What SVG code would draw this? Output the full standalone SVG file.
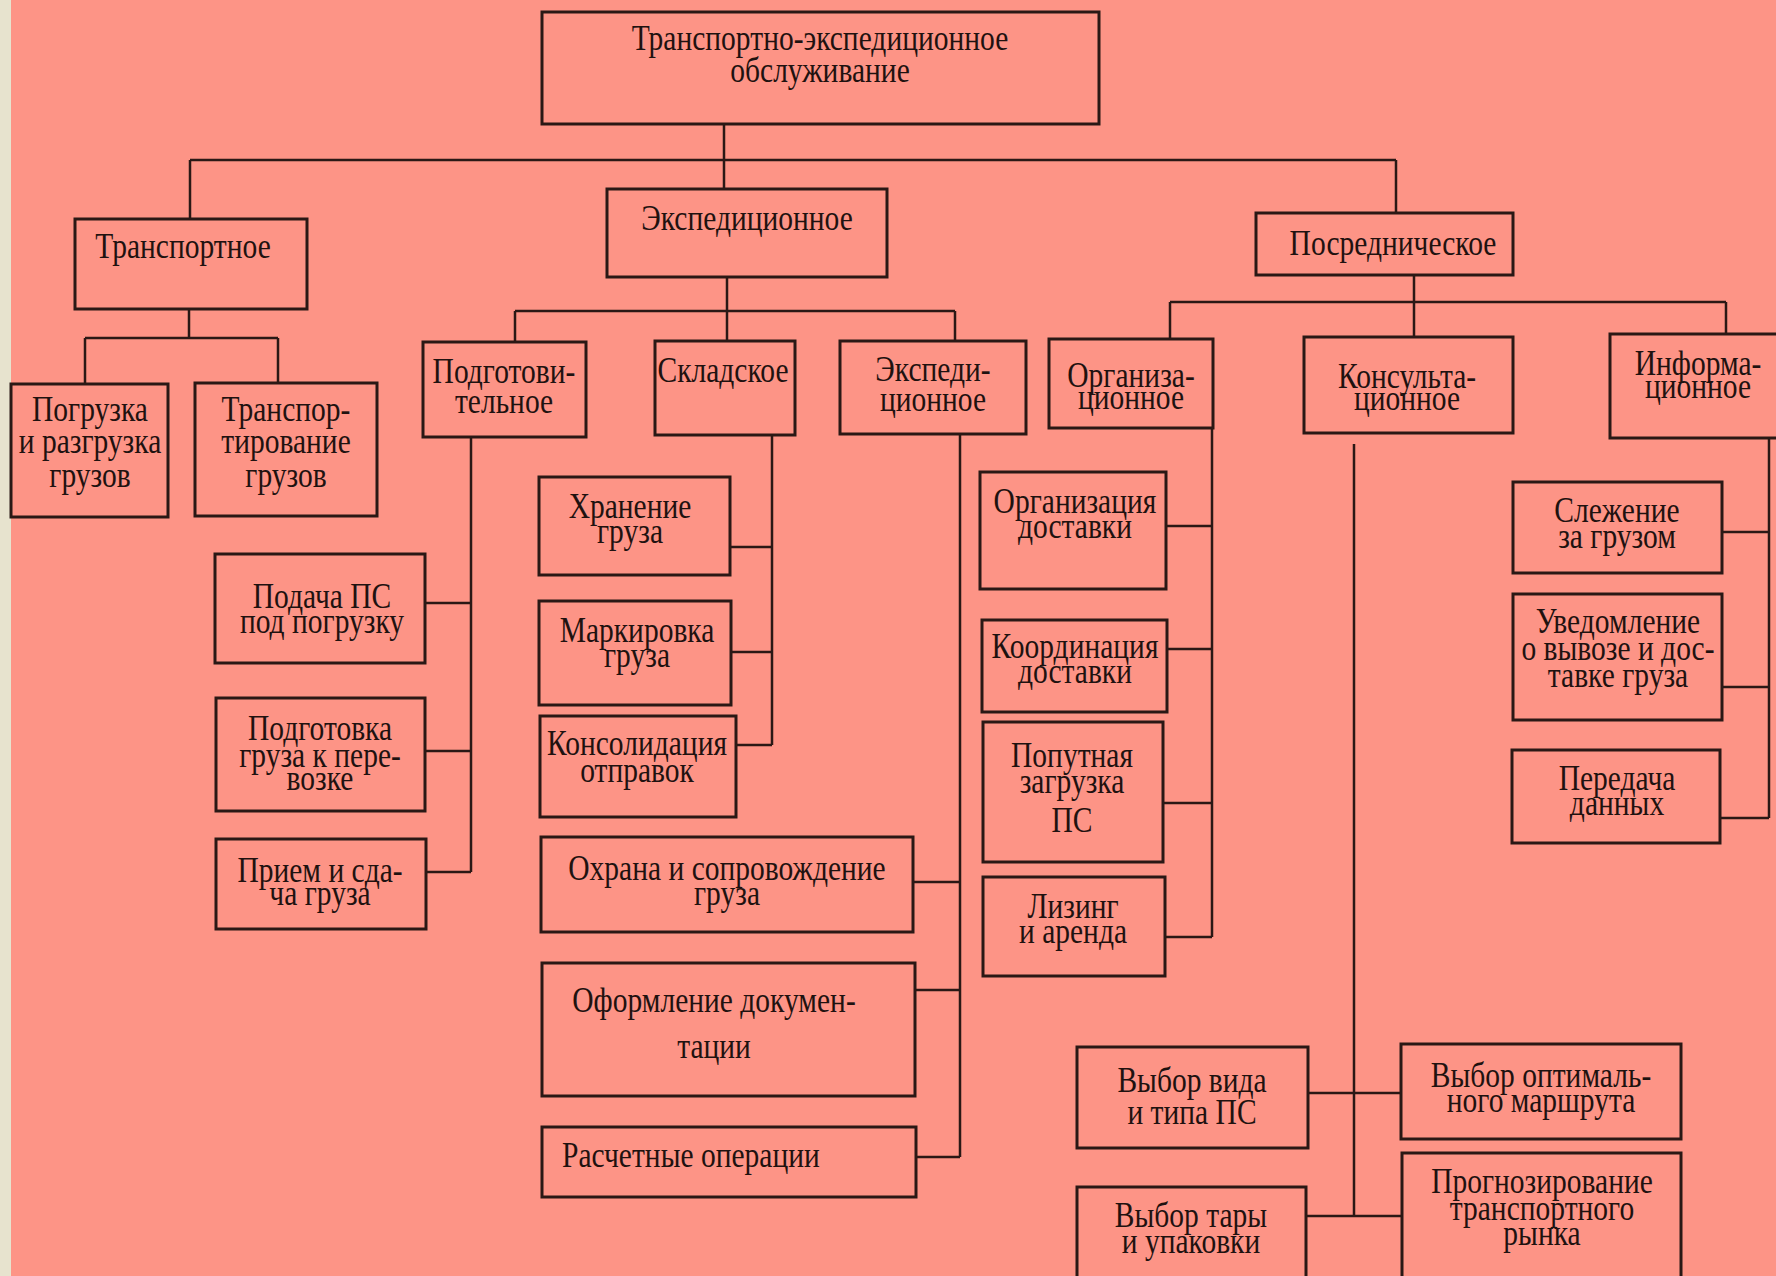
<svg xmlns="http://www.w3.org/2000/svg" width="1776" height="1276" viewBox="0 0 1776 1276">
<style>
.b{fill:none;stroke:#2a1815;stroke-width:3}
.c{fill:none;stroke:#2a1815;stroke-width:2.5}
text{font-family:"Liberation Serif","Times New Roman",serif;font-size:36px;fill:#1f1210;text-anchor:middle}
text.l{text-anchor:start}
</style>
<rect x="0" y="0" width="1776" height="1276" fill="#fd9486"/>
<rect x="0" y="0" width="11" height="1276" fill="#e7e3ce"/>

<g id="connectors" class="c">
<path d="M724 124V189M190 160H1396M190 160V219M1396 160V213"/>
<path d="M189 309V338M85 338H278M85 338V384M278 338V383"/>
<path d="M727 277V341M515 311H955M515 311V342M955 311V341"/>
<path d="M471 437V872M425 603H471M425 751H471M426 872H471"/>
<path d="M772 435V745M730 547H772M731 652H772M736 745H772"/>
<path d="M960 434V1157M913 882H960M915 990H960M916 1157H960"/>
<path d="M1414 275V302M1170 302H1726M1170 302V339M1414 302V337M1726 302V334"/>
<path d="M1212 428V937M1166 526H1212M1167 649H1212M1163 803H1212M1165 937H1212"/>
<path d="M1354 444V1216M1308 1093H1401M1306 1216H1402"/>
<path d="M1769 438V818M1722 532H1769M1722 687H1769M1720 818H1769"/>
</g>

<g id="n0"><rect class="b" x="542" y="12" width="557" height="112"/>
<text transform="translate(820 0) scale(0.82 1)"><tspan x="0" y="50">Транспортно-экспедиционное</tspan><tspan x="0" y="82">обслуживание</tspan></text></g>

<g id="n1"><rect class="b" x="75" y="219" width="232" height="90"/>
<text transform="translate(183 0) scale(0.82 1)"><tspan x="0" y="258">Транспортное</tspan></text></g>

<g id="n2"><rect class="b" x="607" y="189" width="280" height="88"/>
<text transform="translate(747 0) scale(0.82 1)"><tspan x="0" y="230">Экспедиционное</tspan></text></g>

<g id="n3"><rect class="b" x="1256" y="213" width="257" height="62"/>
<text transform="translate(1393 0) scale(0.82 1)"><tspan x="0" y="255">Посредническое</tspan></text></g>

<g id="n4"><rect class="b" x="11" y="384" width="157" height="133"/>
<text transform="translate(90 0) scale(0.82 1)"><tspan x="0" y="421">Погрузка</tspan><tspan x="0" y="453">и разгрузка</tspan><tspan x="0" y="487">грузов</tspan></text></g>

<g id="n5"><rect class="b" x="195" y="383" width="182" height="133"/>
<text transform="translate(286 0) scale(0.82 1)"><tspan x="0" y="421">Транспор-</tspan><tspan x="0" y="453">тирование</tspan><tspan x="0" y="487">грузов</tspan></text></g>

<g id="n6"><rect class="b" x="423" y="342" width="163" height="95"/>
<text transform="translate(504 0) scale(0.82 1)"><tspan x="0" y="383">Подготови-</tspan><tspan x="0" y="413">тельное</tspan></text></g>

<g id="n7"><rect class="b" x="655" y="341" width="140" height="94"/>
<text transform="translate(723 0) scale(0.82 1)"><tspan x="0" y="382">Складское</tspan></text></g>

<g id="n8"><rect class="b" x="840" y="341" width="186" height="93"/>
<text transform="translate(933 0) scale(0.82 1)"><tspan x="0" y="381">Экспеди-</tspan><tspan x="0" y="411">ционное</tspan></text></g>

<g id="n9"><rect class="b" x="215" y="554" width="210" height="109"/>
<text transform="translate(322 0) scale(0.82 1)"><tspan x="0" y="608">Подача ПС</tspan><tspan x="0" y="633">под погрузку</tspan></text></g>

<g id="n10"><rect class="b" x="216" y="698" width="209" height="113"/>
<text transform="translate(320 0) scale(0.82 1)"><tspan x="0" y="740">Подготовка</tspan><tspan x="0" y="767">груза к пере-</tspan><tspan x="0" y="790">возке</tspan></text></g>

<g id="n11"><rect class="b" x="216" y="839" width="210" height="90"/>
<text transform="translate(320 0) scale(0.82 1)"><tspan x="0" y="882">Прием и сда-</tspan><tspan x="0" y="905">ча груза</tspan></text></g>

<g id="n12"><rect class="b" x="539" y="477" width="191" height="98"/>
<text transform="translate(630 0) scale(0.82 1)"><tspan x="0" y="518">Хранение</tspan><tspan x="0" y="543">груза</tspan></text></g>

<g id="n13"><rect class="b" x="539" y="601" width="192" height="104"/>
<text transform="translate(637 0) scale(0.82 1)"><tspan x="0" y="642">Маркировка</tspan><tspan x="0" y="667">груза</tspan></text></g>

<g id="n14"><rect class="b" x="540" y="716" width="196" height="101"/>
<text transform="translate(637 0) scale(0.82 1)"><tspan x="0" y="755">Консолидация</tspan><tspan x="0" y="782">отправок</tspan></text></g>

<g id="n15"><rect class="b" x="541" y="837" width="372" height="95"/>
<text transform="translate(727 0) scale(0.82 1)"><tspan x="0" y="880">Охрана и сопровождение</tspan><tspan x="0" y="905">груза</tspan></text></g>

<g id="n16"><rect class="b" x="542" y="963" width="373" height="133"/>
<text transform="translate(714 0) scale(0.82 1)"><tspan x="0" y="1012">Оформление докумен-</tspan><tspan x="0" y="1058">тации</tspan></text></g>

<g id="n17"><rect class="b" x="542" y="1127" width="374" height="70"/>
<text class="l" transform="translate(562 0) scale(0.82 1)"><tspan x="0" y="1167">Расчетные операции</tspan></text></g>

<g id="n18"><rect class="b" x="1049" y="339" width="164" height="89"/>
<text transform="translate(1131 0) scale(0.82 1)"><tspan x="0" y="387">Организа-</tspan><tspan x="0" y="409">ционное</tspan></text></g>

<g id="n19"><rect class="b" x="1304" y="337" width="209" height="96"/>
<text transform="translate(1407 0) scale(0.82 1)"><tspan x="0" y="388">Консульта-</tspan><tspan x="0" y="410">ционное</tspan></text></g>

<g id="n20"><rect class="b" x="1610" y="334" width="200" height="104"/>
<text transform="translate(1698 0) scale(0.82 1)"><tspan x="0" y="375">Информа-</tspan><tspan x="0" y="398">ционное</tspan></text></g>

<g id="n21"><rect class="b" x="980" y="472" width="186" height="117"/>
<text transform="translate(1075 0) scale(0.82 1)"><tspan x="0" y="513">Организация</tspan><tspan x="0" y="538">доставки</tspan></text></g>

<g id="n22"><rect class="b" x="982" y="620" width="185" height="92"/>
<text transform="translate(1075 0) scale(0.82 1)"><tspan x="0" y="658">Координация</tspan><tspan x="0" y="683">доставки</tspan></text></g>

<g id="n23"><rect class="b" x="983" y="722" width="180" height="140"/>
<text transform="translate(1072 0) scale(0.82 1)"><tspan x="0" y="767">Попутная</tspan><tspan x="0" y="793">загрузка</tspan><tspan x="0" y="832">ПС</tspan></text></g>

<g id="n24"><rect class="b" x="983" y="877" width="182" height="99"/>
<text transform="translate(1073 0) scale(0.82 1)"><tspan x="0" y="918">Лизинг</tspan><tspan x="0" y="943">и аренда</tspan></text></g>

<g id="n25"><rect class="b" x="1077" y="1047" width="231" height="101"/>
<text transform="translate(1192 0) scale(0.82 1)"><tspan x="0" y="1092">Выбор вида</tspan><tspan x="0" y="1124">и типа ПС</tspan></text></g>

<g id="n26"><rect class="b" x="1401" y="1044" width="280" height="95"/>
<text transform="translate(1541 0) scale(0.82 1)"><tspan x="0" y="1087">Выбор оптималь-</tspan><tspan x="0" y="1112">ного маршрута</tspan></text></g>

<g id="n27"><rect class="b" x="1077" y="1187" width="229" height="100"/>
<text transform="translate(1191 0) scale(0.82 1)"><tspan x="0" y="1227">Выбор тары</tspan><tspan x="0" y="1253">и упаковки</tspan></text></g>

<g id="n28"><rect class="b" x="1402" y="1153" width="279" height="130"/>
<text transform="translate(1542 0) scale(0.82 1)"><tspan x="0" y="1193">Прогнозирование</tspan><tspan x="0" y="1220">транспортного</tspan><tspan x="0" y="1245">рынка</tspan></text></g>

<g id="n29"><rect class="b" x="1513" y="482" width="209" height="91"/>
<text transform="translate(1617 0) scale(0.82 1)"><tspan x="0" y="522">Слежение</tspan><tspan x="0" y="548">за грузом</tspan></text></g>

<g id="n30"><rect class="b" x="1513" y="594" width="209" height="126"/>
<text transform="translate(1618 0) scale(0.82 1)"><tspan x="0" y="633">Уведомление</tspan><tspan x="0" y="660">о вывозе и дос-</tspan><tspan x="0" y="687">тавке груза</tspan></text></g>

<g id="n31"><rect class="b" x="1512" y="750" width="208" height="93"/>
<text transform="translate(1617 0) scale(0.82 1)"><tspan x="0" y="790">Передача</tspan><tspan x="0" y="815">данных</tspan></text></g>
</svg>
